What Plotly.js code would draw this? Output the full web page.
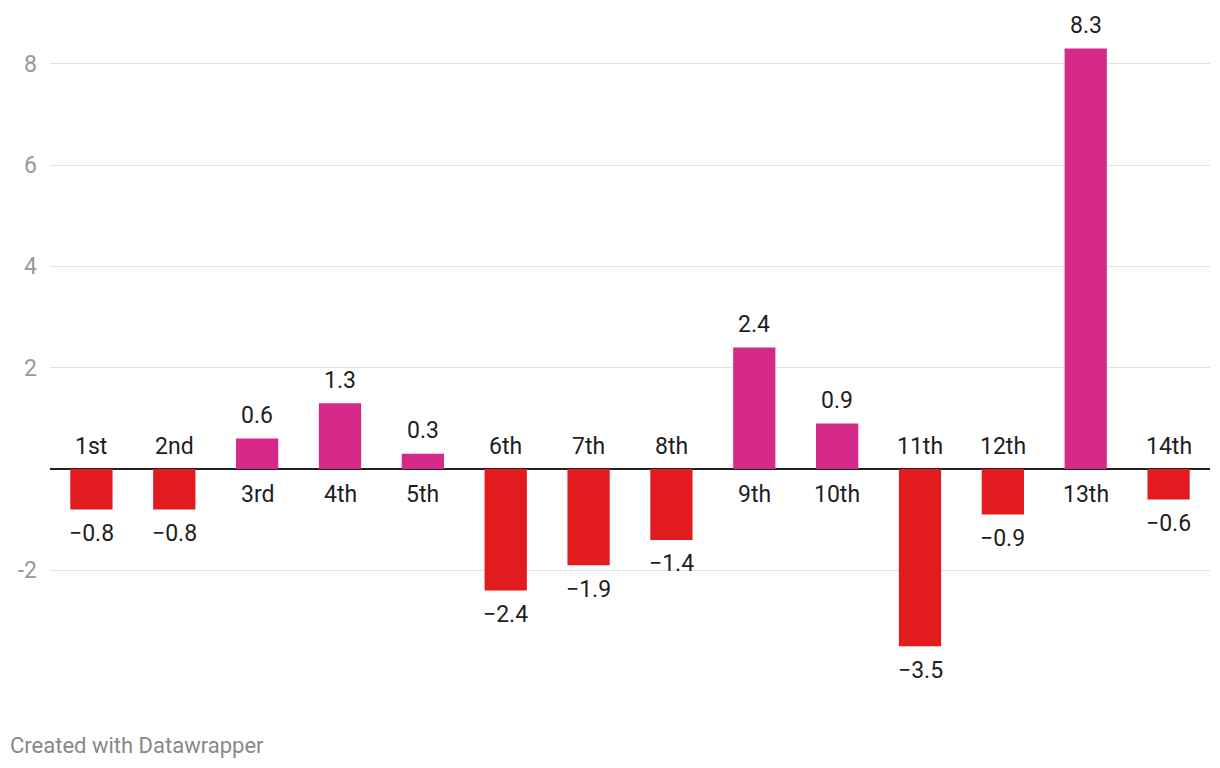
<!DOCTYPE html>
<html>
<head>
<meta charset="utf-8">
<script src="https://cdn.plot.ly/plotly-3.0.1.min.js"></script>
<style>
  html, body { margin: 0; padding: 0; background: #fff; }
  #chart { width: 1220px; height: 768px; }
</style>
</head>
<body>
<div id="chart"></div>
<script>
const categories = ["1st","2nd","3rd","4th","5th","6th","7th","8th","9th","10th","11th","12th","13th","14th"];
const values = [-0.8,-0.8,0.6,1.3,0.3,-2.4,-1.9,-1.4,2.4,0.9,-3.5,-0.9,8.3,-0.6];
const tickValues = [-2,2,4,6,8];
const tickLabels = ["-2","2","4","6","8"];

const posColor = "#d52a8a";
const negColor = "#e21b1f";
const fmt = v => v.toFixed(1).replace("-", "\u2212");

const trace = {
  type: "bar",
  x: categories,
  y: values,
  marker: { color: values.map(v => v >= 0 ? posColor : negColor) },
  hoverinfo: "skip"
};

const annotations = [];
categories.forEach((c, i) => {
  const v = values[i];
  annotations.push({
    xref: "x", yref: "y", x: c, y: v,
    text: fmt(v), showarrow: false,
    yanchor: "middle", yshift: v >= 0 ? 23 : -24,
    font: { family: "Roboto", size: 23, color: "#1e1e1e" }
  });
  annotations.push({
    xref: "x", yref: "y", x: c, y: 0,
    text: c, showarrow: false,
    yanchor: "middle", yshift: v >= 0 ? -25 : 23,
    font: { family: "Roboto", size: 23, color: "#1e1e1e" }
  });
});
annotations.push({
  xref: "paper", yref: "paper", x: 0, y: 0,
  xanchor: "left", yanchor: "middle",
  xshift: -42, yshift: -74,
  text: "Created with Datawrapper", showarrow: false,
  font: { family: "Roboto", size: 22, color: "#888" }
});

const layout = {
  width: 1220, height: 768,
  margin: { l: 50, r: 10, t: 30, b: 97 },
  paper_bgcolor: "#fff", plot_bgcolor: "#fff",
  showlegend: false,
  bargap: 0.49,
  font: { family: "Roboto", color: "#1e1e1e" },
  xaxis: {
    type: "category",
    showticklabels: false, showgrid: false, zeroline: false, showline: false, ticks: ""
  },
  yaxis: {
    range: [-3.987, 8.666],
    tickmode: "array", tickvals: tickValues, ticktext: tickLabels,
    tickfont: { family: "Roboto", size: 23, color: "#999" },
    showgrid: true, gridcolor: "#e3e3e3", gridwidth: 1,
    zeroline: true, zerolinecolor: "#222", zerolinewidth: 2,
    showline: false, ticks: "", ticklabelstandoff: 12
  },
  annotations: annotations
};

Plotly.newPlot("chart", [trace], layout, { displayModeBar: false, staticPlot: true });
</script>
</body>
</html>
